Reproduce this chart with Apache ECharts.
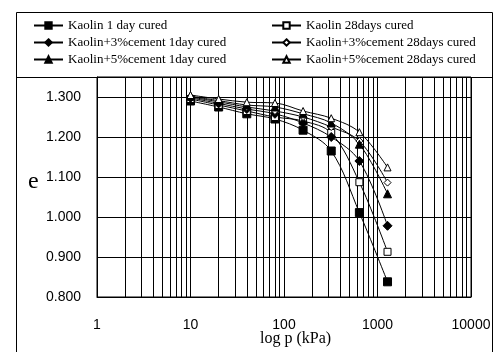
<!DOCTYPE html>
<html><head><meta charset="utf-8">
<script src="https://cdn.jsdelivr.net/npm/echarts@6/dist/echarts.min.js"></script>
<style>html,body{margin:0;padding:0;background:#fff}#c{width:501px;height:352px}</style>
</head><body><div id="c"></div>
<script>
const pressures = [10, 20, 40, 80, 160, 320, 640, 1280];
const kaolin1 = [1.290, 1.275, 1.258, 1.245, 1.217, 1.165, 1.011, 0.838];
const kaolin28 = [1.295, 1.280, 1.265, 1.250, 1.240, 1.210, 1.087, 0.913];
const cem3d1 = [1.298, 1.284, 1.270, 1.258, 1.235, 1.200, 1.140, 0.978];
const cem3d28 = [1.300, 1.288, 1.275, 1.265, 1.250, 1.225, 1.190, 1.086];
const cem5d1 = [1.302, 1.291, 1.280, 1.275, 1.258, 1.235, 1.182, 1.058];
const cem5d28 = [1.305, 1.295, 1.287, 1.285, 1.265, 1.247, 1.212, 1.124];
const names = ['Kaolin 1 day cured', 'Kaolin 28days cured', 'Kaolin+3%cement 1day cured', 'Kaolin+3%cement 28days cured', 'Kaolin+5%cement 1day cured', 'Kaolin+5%cement 28days cured'];
const minorTicks = [2,3,4,5,6,7,8,9,20,30,40,50,60,70,80,90,200,300,400,500,600,700,800,900,2000,3000,4000,5000,6000,7000,8000,9000];
const xTickLabels = ['1', '10', '100', '1000', '10000'];

const serif = "'Liberation Serif', 'DejaVu Serif', serif";
const sans = "'Liberation Sans', Arial, sans-serif";

function mk(name, vals, symbol, filled, size) {
  return {
    name: name, type: 'line', smooth: 0.35,
    data: pressures.map((p, i) => [p, vals[i]]),
    symbol: symbol, symbolSize: size,
    showAllSymbol: true,
    lineStyle: { color: '#000', width: 1 },
    itemStyle: { color: filled ? '#000' : '#fff', borderColor: '#000', borderWidth: 1 },
    z: 5
  };
}
const series = [
  mk(names[0], kaolin1, 'rect', true, 8),
  mk(names[1], kaolin28, 'rect', false, 7),
  mk(names[2], cem3d1, 'diamond', true, 9),
  mk(names[3], cem3d28, 'diamond', false, 7),
  mk(names[4], cem5d1, 'triangle', true, 8),
  mk(names[5], cem5d28, 'triangle', false, 7)
];
series.push({
  type: 'line', data: [], silent: true, z: 1,
  markLine: {
    silent: true, symbol: 'none', label: { show: false },
    lineStyle: { color: '#000', width: 1, type: 'solid' },
    emphasis: { disabled: true },
    data: minorTicks.map(v => ({ xAxis: v }))
  }
});

const chart = echarts.init(document.getElementById('c'), null, { renderer: 'canvas' });
const legendText = { fontFamily: serif, fontSize: 13, color: '#000' };
chart.setOption({
  animation: false,
  backgroundColor: '#fff',
  grid: { left: 97, right: 30, top: 77, bottom: 55, show: true, borderColor: '#000', borderWidth: 1 },
  legend: [
    { data: [names[0], names[2], names[4]], orient: 'vertical', left: 28, top: 14, itemGap: 4, itemWidth: 29, itemHeight: 8, textStyle: legendText, selectedMode: false },
    { data: [names[1], names[3], names[5]], orient: 'vertical', left: 266, top: 14, itemGap: 4, itemWidth: 29, itemHeight: 8, textStyle: legendText, selectedMode: false }
  ],
  xAxis: {
    type: 'log', logBase: 10, min: 1, max: 10000,
    axisLine: { lineStyle: { color: '#000', width: 1 } },
    axisTick: { show: false },
    splitLine: { show: true, lineStyle: { color: '#000', width: 1 } },
    axisLabel: { color: '#000', fontFamily: sans, fontSize: 14, margin: 21,
      formatter: v => { const s = String(Math.round(v)); return xTickLabels.includes(s) ? s : ''; } }
  },
  yAxis: {
    type: 'value', min: 0.8, max: 1.35, interval: 0.1,
    axisLine: { show: true, lineStyle: { color: '#000', width: 1 } },
    axisTick: { show: false },
    splitLine: { show: true, lineStyle: { color: '#000', width: 1 } },
    axisLabel: { color: '#000', fontFamily: sans, fontSize: 14, margin: 16,
      formatter: v => v.toFixed(3), showMaxLabel: false }
  },
  graphic: [
    { type: 'rect', shape: { x: 16.5, y: 12.5, width: 476, height: 400 }, style: { fill: 'none', stroke: '#000', lineWidth: 1 }, z: 100, silent: true },
    { type: 'line', shape: { x1: 16, y1: 77.5, x2: 493, y2: 77.5 }, style: { stroke: '#000', lineWidth: 1 }, z: 100, silent: true },
    { type: 'text', left: 28, top: 170, style: { text: 'e', font: "24px " + serif, fill: '#000' } },
    { type: 'text', left: 260, top: 331, style: { text: 'log p (kPa)', font: "16px " + serif, fill: '#000' } }
  ],
  series: series
});
</script></body></html>
